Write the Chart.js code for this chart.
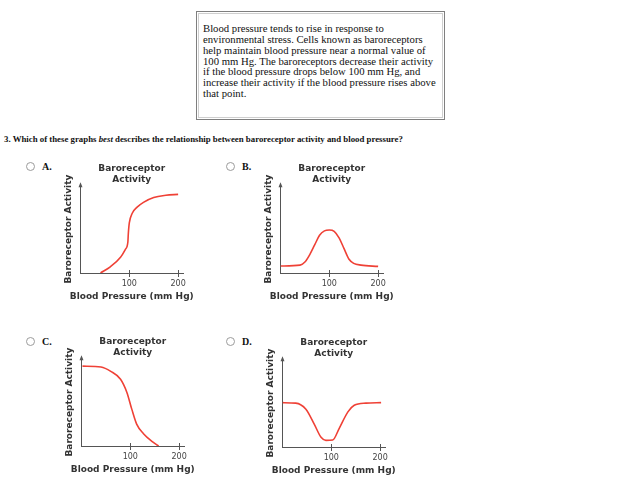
<!DOCTYPE html>
<html>
<head>
<meta charset="utf-8">
<script src="https://cdn.jsdelivr.net/npm/chart.js@4"></script>
<style>
  body { margin: 0; background: #fff; width: 620px; height: 502px; position: relative; overflow: hidden; }
  .box {
    position: absolute; left: 196px; top: 11px; width: 249px; height: 109px;
    box-sizing: border-box; border: 1px solid #7f7f7f;
    box-shadow: inset 0 0 0 1px #fff, inset 0 0 0 2px #cfcfcf;
    font-family: "Liberation Serif", "Times New Roman", serif; font-size: 10.7px; line-height: 10.85px;
    color: #111; padding: 11px 0 0 6px; white-space: nowrap;
  }
  .question {
    position: absolute; left: 4px; top: 134px; white-space: nowrap;
    font-family: "Liberation Serif", serif; font-weight: bold; font-size: 8.8px; color: #111;
  }
  .radio {
    position: absolute; width: 9px; height: 9px; box-sizing: border-box;
    border: 1px solid #9c9c9c; border-radius: 50%; background: #fff;
  }
  .opt {
    position: absolute; font-family: "Liberation Serif", serif; font-weight: bold;
    font-size: 10px; line-height: 10px; color: #111;
  }
  canvas { position: absolute; }
</style>
</head>
<body>
<div class="box">Blood pressure tends to rise in response to<br>environmental stress. Cells known as baroreceptors<br>help maintain blood pressure near a normal value of<br>100 mm Hg. The baroreceptors decrease their activity<br>if the blood pressure drops below 100 mm Hg, and<br>increase their activity if the blood pressure rises above<br>that point.</div>
<div class="question">3. Which of these graphs <i>best</i> describes the relationship between baroreceptor activity and blood pressure?</div>

<div class="radio" style="left:26px;top:162px"></div><div class="opt" style="left:42px;top:162px">A.</div>
<div class="radio" style="left:226px;top:162px"></div><div class="opt" style="left:242px;top:162px">B.</div>
<div class="radio" style="left:26px;top:337px"></div><div class="opt" style="left:42px;top:337px">C.</div>
<div class="radio" style="left:226px;top:337px"></div><div class="opt" style="left:242px;top:337px">D.</div>

<canvas id="chartA" width="150" height="147" style="left:58px;top:158px"></canvas>
<canvas id="chartB" width="150" height="147" style="left:258px;top:158px"></canvas>
<canvas id="chartC" width="150" height="147" style="left:59px;top:331px"></canvas>
<canvas id="chartD" width="150" height="147" style="left:260px;top:332px"></canvas>

<script>
// tick labels on the blood pressure axis
const bpTicks = [100, 200];

// A: sigmoid rising
const curveAx = [41, 61, 82, 92, 97, 98, 100, 106, 116, 129, 150, 175, 200];
const curveAy = [0, 7, 18, 27, 35, 45, 57, 68, 75, 80.5, 86, 88.5, 89.5];

// B: bell
const curveBx = [0, 40, 50, 60, 70, 80, 90, 100, 110, 120, 130, 140, 150, 165, 200];
const curveBy = [8, 9, 12.5, 21, 32, 43, 48, 49, 47.5, 40, 28, 16, 11, 9, 7.5];

// C: falling
const curveCx = [2, 40, 60, 80, 93, 103, 113, 127, 145, 158];
const curveCy = [91, 90, 85, 76, 61, 42, 25, 14, 5, 0];

// D: dip
const curveDx = [0, 27, 48, 65, 79, 89, 103, 116, 134, 147, 171, 202];
const curveDy = [50.5, 50, 43, 26, 11, 7.5, 8, 21, 40, 47.5, 50, 50.5];

const axisColor = '#555';
const textColor = '#333';
const lineColor = '#ef4136';

// arrow on y axis, tick marks crossing the x axis, and the x title
// (chart.js squeezes the x title to the chart area width, so it is drawn here)
const axisExtras = {
    id: 'axisExtras',
    afterDraw: function(chart) {
        const ctx = chart.ctx;
        const area = chart.chartArea;
        const xs = chart.scales.x;
        ctx.save();
        ctx.fillStyle = axisColor;
        ctx.beginPath();
        ctx.moveTo(area.left, area.top - 3);
        ctx.lineTo(area.left - 2, area.top + 2);
        ctx.lineTo(area.left + 2, area.top + 2);
        ctx.closePath();
        ctx.fill();
        ctx.strokeStyle = axisColor;
        ctx.lineWidth = 1;
        xs.ticks.forEach(function(t) {
            const px = Math.round(xs.getPixelForValue(t.value)) + 0.5;
            ctx.beginPath();
            ctx.moveTo(px, area.bottom - 3);
            ctx.lineTo(px, area.bottom);
            ctx.stroke();
        });
        ctx.font = 'bold 9px "DejaVu Sans"';
        ctx.fillStyle = textColor;
        ctx.textAlign = 'center';
        ctx.textBaseline = 'middle';
        ctx.fillText(xs.options.title.text, (area.left + area.right) / 2, xs.bottom - 1.8 - 6.3);
        ctx.restore();
    }
};

function createPanel(chartId, xs, ys) {
    new Chart(document.getElementById(chartId), {
        type: 'line',
        data: {
            datasets: [{
                data: xs.map((x, i) => ({ x: x, y: ys[i] })),
                borderColor: lineColor,
                borderWidth: 1.6,
                pointRadius: 0,
                fill: false,
                cubicInterpolationMode: 'monotone'
            }]
        },
        options: {
            responsive: false,
            animation: false,
            layout: { padding: { right: 25 } },
            plugins: {
                legend: { display: false },
                tooltip: { enabled: false },
                title: {
                    display: true,
                    fullSize: false,
                    text: ['Baroreceptor', 'Activity'],
                    color: textColor,
                    font: { family: 'DejaVu Sans', size: 9, weight: 'bold', lineHeight: 1.2 },
                    padding: { top: 5.6, bottom: 0 }
                }
            },
            scales: {
                x: {
                    type: 'linear',
                    min: 0,
                    max: 210,
                    afterBuildTicks: function(scale) {
                        scale.ticks = bpTicks.map(v => ({ value: v }));
                    },
                    ticks: {
                        color: '#444',
                        padding: 2,
                        maxRotation: 0,
                        font: { family: 'DejaVu Sans', size: 8, lineHeight: 1.2 }
                    },
                    grid: {
                        display: true,
                        drawOnChartArea: false,
                        drawTicks: true,
                        tickLength: 4,
                        color: axisColor
                    },
                    border: { display: true, color: axisColor, width: 1 },
                    title: {
                        // keeps the space; the text itself is painted by axisExtras
                        display: true,
                        text: 'Blood Pressure (mm Hg)',
                        color: 'rgba(0,0,0,0)',
                        font: { family: 'DejaVu Sans', size: 9, weight: 'bold', lineHeight: 1.4 },
                        padding: { top: 0, bottom: 1.8 }
                    }
                },
                y: {
                    min: 0,
                    max: 100,
                    ticks: { display: false },
                    grid: { display: false, drawTicks: false },
                    border: { display: true, color: axisColor, width: 1 },
                    title: {
                        display: true,
                        text: 'Baroreceptor Activity',
                        color: textColor,
                        font: { family: 'DejaVu Sans', size: 9, weight: 'bold', lineHeight: 1.2 },
                        padding: { top: 5.6, bottom: 6.1 }
                    }
                }
            }
        },
        plugins: [axisExtras]
    });
}

createPanel('chartA', curveAx, curveAy);
createPanel('chartB', curveBx, curveBy);
createPanel('chartC', curveCx, curveCy);
createPanel('chartD', curveDx, curveDy);
</script>
</body>
</html>
